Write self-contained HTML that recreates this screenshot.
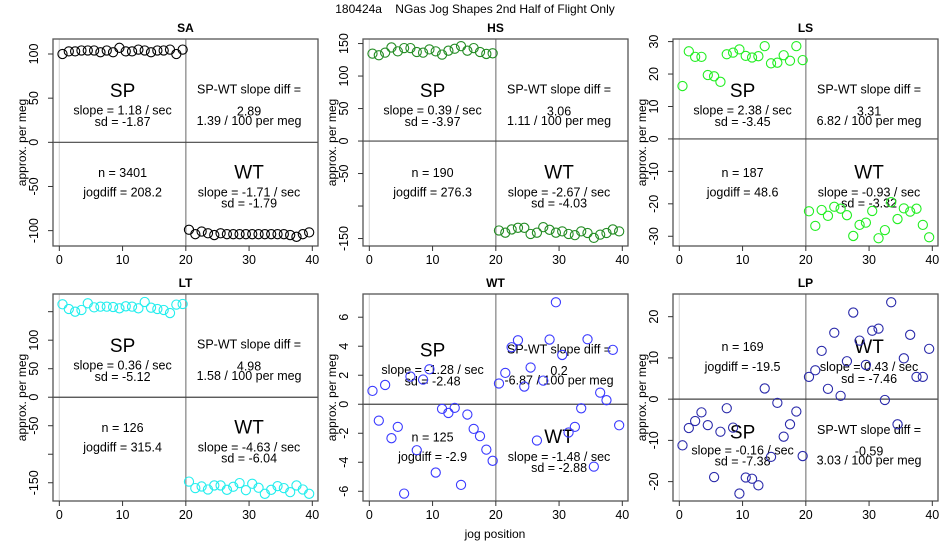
<!DOCTYPE html>
<html><head><meta charset="utf-8"><style>
body{margin:0;background:#fff;}
svg{display:block;font-family:"Liberation Sans",Arial,sans-serif;}
</style></head><body>
<svg id="chart" width="950" height="550" viewBox="0 0 950 550">
<text x="475" y="13" text-anchor="middle" font-size="12" xml:space="preserve">180424a    NGas Jog Shapes 2nd Half of Flight Only</text>
<text x="495" y="538" text-anchor="middle" font-size="12">jog position</text>
</svg>
<script>
const positions = [0.5,1.5,2.5,3.5,4.5,5.5,6.5,7.5,8.5,9.5,10.5,11.5,12.5,13.5,14.5,15.5,16.5,17.5,18.5,19.5,20.5,21.5,22.5,23.5,24.5,25.5,26.5,27.5,28.5,29.5,30.5,31.5,32.5,33.5,34.5,35.5,36.5,37.5,38.5,39.5];
const panelNames = ["SA","HS","LS","LT","WT","LP"];
const saValues = [100,103,103,104,104,104,102,104,102,107,103,103,105,104,102,104,104,105,100,105,
 -99,-104,-101,-103,-105,-103,-104,-104,-104,-104,-104,-104,-104,-104,-104,-104,-105,-107,-104,-102];
const hsValues = [134.5,132,136,144,138,143,143,137,136,141,138,133,139,142,146,139,143,137,134,135,
 -137.6,-141,-136,-133.5,-133.5,-143,-141,-132.5,-136.6,-141,-139,-143,-144.8,-139,-141.5,-149,-144,-141.5,-136,-139];
const lsValues = [16.3,27,25.3,25.3,19.7,19.3,17.6,26.1,26.6,27.6,25.6,25.1,25.5,28.6,23.3,23.5,25.8,24.1,28.6,24.3,
 -22.3,-26.8,-21.9,-23.7,-20.9,-21.5,-23.5,-29.9,-26.5,-25.8,-22.2,-30.6,-28.1,-19.5,-24.7,-21.4,-22.4,-21.5,-26.5,-30.3];
const ltValues = [163,154.7,150,153,164.7,157.6,158.8,158.8,158.2,155.9,159.4,158.8,155.9,167,157,154.7,153,147.6,162.4,163.5,
 -148,-159.4,-156.5,-161.8,-154.7,-154.7,-162.4,-157,-150.6,-163,-151.8,-158.8,-169.4,-162.4,-155.9,-159.4,-166.5,-154.7,-161.8,-169.4];
const wtValues = [0.92,-1.13,1.33,-2.34,-1.56,-6.16,1.91,-3.17,1.7,2.41,-4.71,-0.32,-0.6,-0.25,-5.56,-0.71,-1.7,-2.2,-3.13,-3.9,
 1.43,2.16,3.93,4.41,1.22,2.53,-2.5,1.63,4.46,7.03,3.4,-1.95,-1.56,-0.28,4.48,-4.3,0.8,0.28,3.75,-1.45];
const lpValues = [-11.2,-7,-5.3,-3.2,-6.3,-18.9,-7.9,-2.2,-6.9,-22.9,-19,-19.3,-20.9,2.6,-14,-0.9,-9.1,-6.1,-3,-13.8,
 5.4,7,11.7,2.5,16.1,0.8,9.2,21,14.2,8.3,16.6,17.1,-0.2,23.5,-6.1,9.9,15.6,5.4,5.4,12.2];
const yRanges = [[-117.4,117],[-161.5,157],[-33,30.8],[-182,181],[-6.67,7.6],[-24.7,25.5]];
const yTicks = [[-100,-50,0,50,100],[-150,-100,-50,0,50,100,150],[-30,-20,-10,0,10,20,30],[-150,-100,-50,0,50,100,150],[-6,-4,-2,0,2,4,6],[-20,-10,0,10,20]];
const yTickHidden = [[],[-100],[],[-100,150],[],[]];
const xTicks = [0,10,20,30,40];
const spSlopes = ["1.18","0.39","2.38","0.36","-1.28","-0.16"];
const spSds = ["-1.87","-3.97","-3.45","-5.12","-2.48","-7.38"];
const wtSlopes = ["-1.71","-2.67","-0.93","-4.63","-1.48","0.43"];
const wtSds = ["-1.79","-4.03","-3.32","-6.04","-2.88","-7.46"];
const slopeDiffs = ["2.89","3.06","3.31","4.98","0.2","-0.59"];
const perMeg = ["1.39","1.11","6.82","1.58","-6.87","3.03"];
const counts = ["3401","190","187","126","125","169"];
const jogDiffs = ["208.2","276.3","48.6","315.4","-2.9","-19.5"];
const allValues = [saValues,hsValues,lsValues,ltValues,wtValues,lpValues];
const colors = ["#000000","#228b22","#22ee22","#22eeee","#3a3aff","#2a2aaa"];
const boxLefts = [53,363,673,53,363,673];
const boxTops = [39,39,39,294,294,294];
const BW = 265, BH = 207;
const xRange = [-1.0,40.9];
const NS = "http://www.w3.org/2000/svg";
const svg = document.getElementById("chart");
function mk(tag, attrs, parent){
  const e = document.createElementNS(NS, tag);
  for (const k in attrs) e.setAttribute(k, attrs[k]);
  (parent||svg).appendChild(e); return e;
}
function tx(parent, x, y, s, size, extra){
  const t = mk("text", Object.assign({x:x,y:y,"text-anchor":"middle","font-size":size||12}, extra||{}), parent);
  t.textContent = s; return t;
}
panelNames.forEach((name, i) => {
  const L = boxLefts[i], T = boxTops[i];
  const yr = yRanges[i];
  const xs = v => L + (v - xRange[0]) / (xRange[1]-xRange[0]) * BW;
  const ys = v => T + BH - (v - yr[0]) / (yr[1]-yr[0]) * BH;
  const g = mk("g", {});
  
  
  const title = tx(g, L + BW/2, T - 7, name, 12, {"font-weight":"bold"});
  
  
  const l0 = mk("line", {x1:xs(0),x2:xs(0),y1:T,y2:T+BH,stroke:"#d8d8d8","stroke-width":1.2}, g);
  
  
  const l20 = mk("line", {x1:xs(20),x2:xs(20),y1:T,y2:T+BH,stroke:"#999","stroke-width":1.5}, g);
  
  
  const hz = mk("line", {x1:L,x2:L+BW,y1:ys(0),y2:ys(0),stroke:"#444","stroke-width":1.2}, g);
  
  
  const box = mk("rect", {x:L,y:T,width:BW,height:BH,fill:"none",stroke:"#555","stroke-width":1.3}, g);
  
  
  xTicks.forEach(v => {
    mk("line", {x1:xs(v),x2:xs(v),y1:T+BH,y2:T+BH+5,stroke:"#333"}, g);
    const t = tx(g, xs(v), T+BH+18, String(v), 12.5);
    
    
  });
  yTicks[i].forEach(v => {
    mk("line", {x1:L-5,x2:L,y1:ys(v),y2:ys(v),stroke:"#333"}, g);
    if (yTickHidden[i].indexOf(v) < 0) {
      const t = tx(g, 0, 0, String(v), 12.5, {transform:"translate("+(L-15)+","+ys(v)+") rotate(-90)"});
      
      
    }
  });
  const yt = tx(g, 0, 0, "approx. per meg", 12, {transform:"translate("+(L-27)+","+(T+BH/2)+") rotate(-90)"});
  
  
  const lp = (name === "LP");
  const sh1 = name === "WT" ? 0.022 : 0, sh2 = name === "WT" ? 0.045 : 0;
  const cx1 = xs(10), cx2 = xs(30);
  const fy = f => T + BH*f;
  const ann = mk("g", {}, g);
  
  
  function spBlock(cx, a, b, c){ tx(ann,cx,fy(a)+6,"SP",19); tx(ann,cx,fy(b)+4,"slope = "+spSlopes[i]+" / sec",12.5); tx(ann,cx,fy(c)+4,"sd = "+spSds[i],12.5); }
  function wtBlock(cx, a, b, c){ tx(ann,cx,fy(a)+6,"WT",19); tx(ann,cx,fy(b)+4,"slope = "+wtSlopes[i]+" / sec",12.5); tx(ann,cx,fy(c)+4,"sd = "+wtSds[i],12.5); }
  function diffBlock(cx, a, b, c){ tx(ann,cx,fy(a)+4,"SP-WT slope diff =",12.5); tx(ann,cx,fy(b)+4,slopeDiffs[i],12.5); tx(ann,cx,fy(c)+4,perMeg[i]+" / 100 per meg",12.5); }
  function nBlock(cx, a, b){ tx(ann,cx,fy(a)+4,"n = "+counts[i],12.5); tx(ann,cx,fy(b)+4,"jogdiff = "+jogDiffs[i],12.5); }
  if (!lp) {
    spBlock(cx1, .25+sh1, .345+sh1, .40+sh1);
    diffBlock(cx2, .245+sh1, .35+sh1, .395+sh1);
    nBlock(cx1, .648+sh2, .742+sh2);
    wtBlock(cx2, .645+sh2, .742+sh2, .795+sh2);
  } else {
    nBlock(cx1, .256, .353);
    wtBlock(cx2, .256, .353, .41);
    spBlock(cx1, .669, .756, .81);
    diffBlock(cx2, .656, .76, .805);
  }
  const pts = mk("g", {}, g);
  
  
  allValues[i].forEach((v, k) => {
    const c = mk("circle", {cx:xs(positions[k]), cy:ys(v), r:4.6, fill:"none", stroke:colors[i], "stroke-width":1.1}, pts);
    
    
  });
});
</script>
</body></html>
